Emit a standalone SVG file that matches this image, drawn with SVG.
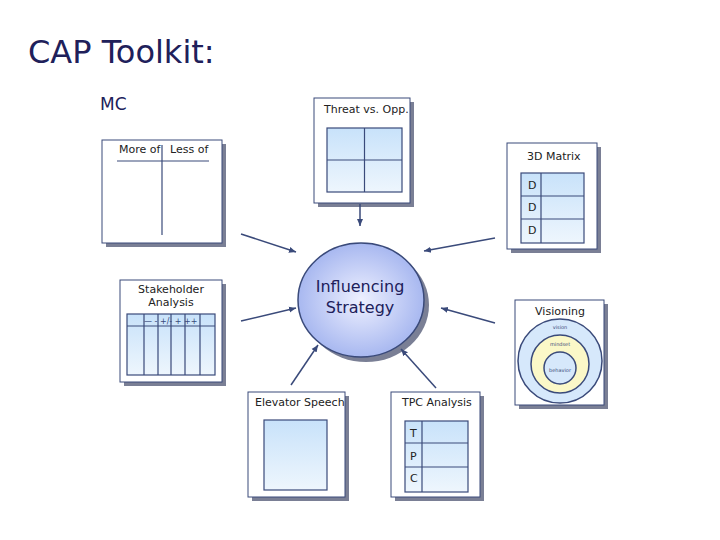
<svg xmlns="http://www.w3.org/2000/svg" width="720" height="540" viewBox="0 0 720 540">
<defs>
<linearGradient id="g" x1="0" y1="0" x2="0" y2="1"><stop offset="0" stop-color="#c8e2fa"/><stop offset="1" stop-color="#eef6fd"/></linearGradient>
<radialGradient id="eg" cx="0.5" cy="0.5" r="0.5"><stop offset="0" stop-color="#eef0ff"/><stop offset="1" stop-color="#a8b8f0"/></radialGradient>
<marker id="a" markerWidth="8" markerHeight="8" refX="7" refY="4" orient="auto" markerUnits="userSpaceOnUse"><path d="M0,1 L7,4 L0,7 Z" fill="#3a4a7a"/></marker>
</defs>
<style>
.box{fill:#fff;stroke:#3a4a7a;stroke-width:1}
.sh{fill:#7a7f95}
.in{fill:url(#g);stroke:#3a4a7a;stroke-width:1.2}
.ln{stroke:#3a4a7a;stroke-width:1.2;fill:none}
.t{font-family:"DejaVu Sans",sans-serif;font-size:11px;fill:#222}
.c{stroke:#3a4a7a;stroke-width:1.5;fill:none;marker-end:url(#a)}
</style>
<rect width="720" height="540" fill="#fff"/>
<text x="28" y="63" font-family="'DejaVu Sans',sans-serif" font-size="32" fill="#20205a">CAP Toolkit:</text>
<text x="100" y="110" font-family="'DejaVu Sans',sans-serif" font-size="17" fill="#20205a">MC</text>
<g id="mc">
<rect class="sh" x="106" y="144" width="120" height="103"/>
<rect class="box" x="102" y="140" width="120" height="103"/>
<text class="t" x="119" y="153">More of</text><text class="t" x="170" y="153">Less of</text>
<line x1="117" y1="161" x2="209" y2="161" class="ln" stroke-width="0.8"/>
<line x1="162" y1="145" x2="162" y2="235" class="ln" stroke-width="0.8"/>
</g>
<g id="threat">
<rect class="sh" x="318" y="102" width="96" height="105"/>
<rect class="box" x="314" y="98" width="96" height="105"/>
<text class="t" x="324" y="113">Threat vs. Opp.</text>
<rect class="in" x="327" y="128" width="75" height="64"/>
<line class="ln" x1="364.5" y1="128" x2="364.5" y2="192"/><line class="ln" x1="327" y1="160" x2="402" y2="160"/>
</g>
<g id="matrix">
<rect class="sh" x="511" y="147" width="90" height="106"/>
<rect class="box" x="507" y="143" width="90" height="106"/>
<text class="t" x="527" y="160">3D Matrix</text>
<rect class="in" x="521" y="173" width="63" height="70"/>
<line class="ln" x1="541" y1="173" x2="541" y2="243"/>
<line class="ln" x1="521" y1="196" x2="584" y2="196"/><line class="ln" x1="521" y1="219" x2="584" y2="219"/>
<text class="t" x="528" y="189">D</text><text class="t" x="528" y="211">D</text><text class="t" x="528" y="234">D</text>
</g>
<g id="stake">
<rect class="sh" x="124" y="284" width="102" height="102"/>
<rect class="box" x="120" y="280" width="102" height="102"/>
<text class="t" x="171" y="293" text-anchor="middle">Stakeholder</text>
<text class="t" x="171" y="306" text-anchor="middle">Analysis</text>
<rect class="in" x="127" y="314" width="88" height="61"/>
<line class="ln" x1="127" y1="326" x2="215" y2="326"/>
<path class="ln" d="M144,314V375M158,314V375M171,314V375M185,314V375M200,314V375"/>
<text x="144" y="324" font-family="DejaVu Sans,sans-serif" font-size="8" fill="#3a4a7a">—  -  +/- +  ++</text>
</g>
<g id="center">
<ellipse cx="366" cy="305" rx="63" ry="57" fill="#7a7f95"/>
<ellipse cx="361" cy="300" rx="63" ry="57" fill="url(#eg)" stroke="#3a4a7a" stroke-width="1.5"/>
<text x="360" y="292" text-anchor="middle" font-family="'DejaVu Sans',sans-serif" font-size="16" fill="#20205a">Influencing</text>
<text x="360" y="313" text-anchor="middle" font-family="'DejaVu Sans',sans-serif" font-size="16" fill="#20205a">Strategy</text>
</g>
<g id="vision">
<rect class="sh" x="519" y="304" width="89" height="105"/>
<rect class="box" x="515" y="300" width="89" height="105"/>
<text x="560" y="315" text-anchor="middle" font-family="'DejaVu Sans',sans-serif" font-size="11" fill="#222">Visioning</text>
<circle cx="560" cy="361" r="42" fill="#d6e8fb" stroke="#3a4a7a" stroke-width="1.5"/>
<circle cx="560" cy="364" r="29" fill="#fbf8c8" stroke="#3a4a7a" stroke-width="1.5"/>
<circle cx="560" cy="368" r="16" fill="#d6e8fb" stroke="#3a4a7a" stroke-width="1.5"/>
<text x="560" y="329" text-anchor="middle" font-family="DejaVu Sans,sans-serif" font-size="5" fill="#3a4a7a">vision</text>
<text x="560" y="346" text-anchor="middle" font-family="DejaVu Sans,sans-serif" font-size="5" fill="#3a4a7a">mindset</text>
<text x="560" y="372" text-anchor="middle" font-family="DejaVu Sans,sans-serif" font-size="5" fill="#3a4a7a">behavior</text>
</g>
<g id="elevator">
<rect class="sh" x="252" y="396" width="97" height="105"/>
<rect class="box" x="248" y="392" width="97" height="105"/>
<text class="t" x="255" y="406">Elevator Speech</text>
<rect class="in" x="264" y="420" width="63" height="70"/>
</g>
<g id="tpc">
<rect class="sh" x="395" y="396" width="89" height="105"/>
<rect class="box" x="391" y="392" width="89" height="105"/>
<text class="t" x="402" y="406">TPC Analysis</text>
<rect class="in" x="405" y="421" width="63" height="71"/>
<line class="ln" x1="422" y1="421" x2="422" y2="492"/>
<line class="ln" x1="405" y1="443" x2="468" y2="443"/><line class="ln" x1="405" y1="467" x2="468" y2="467"/>
<text class="t" x="410" y="437">T</text><text class="t" x="410" y="460">P</text><text class="t" x="410" y="482">C</text>
</g>
<g id="connectors">
<line class="c" x1="360" y1="204" x2="360" y2="226"/>
<line class="c" x1="241" y1="234" x2="296" y2="252"/>
<line class="c" x1="495" y1="238" x2="424" y2="251"/>
<line class="c" x1="241" y1="321" x2="296" y2="308"/>
<line class="c" x1="495" y1="323" x2="441" y2="308"/>
<line class="c" x1="291" y1="385" x2="318" y2="345"/>
<line class="c" x1="436" y1="388" x2="401" y2="349"/>
</g>
</svg>
